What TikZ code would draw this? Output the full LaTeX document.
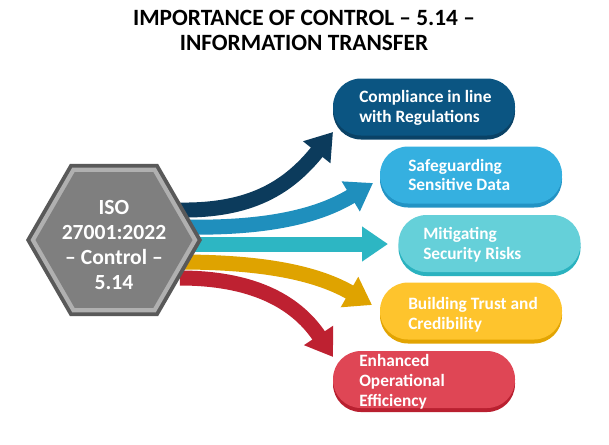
\documentclass[tikz,border=0pt]{standalone}
\usepackage{fontspec}
\setmainfont{Carlito}
\usetikzlibrary{arrows.meta}
\definecolor{hexdark}{HTML}{595959}
\definecolor{hexlight}{HTML}{B0B0B0}
\definecolor{hexmid}{HTML}{7F7F7F}
\definecolor{aNavy}{HTML}{0C3B5C}
\definecolor{aBlue}{HTML}{1F8FBD}
\definecolor{aTeal}{HTML}{2DB6C3}
\definecolor{aGold}{HTML}{DFA300}
\definecolor{aRed}{HTML}{BE2131}
\definecolor{pNavy}{HTML}{0B5582}
\definecolor{pNavyD}{HTML}{0A4266}
\definecolor{pBlue}{HTML}{35B0E0}
\definecolor{pBlueD}{HTML}{2293C4}
\definecolor{pTeal}{HTML}{65D0D9}
\definecolor{pTealD}{HTML}{2AB2BF}
\definecolor{pGold}{HTML}{FEC42D}
\definecolor{pGoldD}{HTML}{E2A402}
\definecolor{pRed}{HTML}{DF4655}
\definecolor{pRedD}{HTML}{B92030}
\begin{document}
\begin{tikzpicture}[x=0.75pt,y=-0.75pt,
  pill/.style={minimum width=136.5pt, minimum height=42.75pt, rounded corners=21pt, inner sep=0pt},
  ptext/.style={text=white, font=\fontsize{13}{14.8}\selectfont\bfseries, align=left, inner sep=0pt, anchor=west},
  arr/.style={line width=11.25pt, -{Triangle[length=19.5pt,width=25pt]}},
  title/.style={font=\fontsize{17.5}{18.75}\selectfont\bfseries, align=center, inner sep=0pt},
  hextext/.style={text=white, font=\fontsize{16.2}{18.75}\selectfont\bfseries, align=center, inner sep=0pt}]
\path[use as bounding box, fill=white] (0,0) rectangle (609,444);

\node[title] (title) at (304,30) {IMPORTANCE OF CONTROL – 5.14 –\\INFORMATION TRANSFER};

% pills (shadow + face)
\node[pill, fill=pNavyD] (p1s) at (424,111) {};
\node[pill, fill=pNavy] (p1) at (424,107) {};
\node[pill, fill=pBlueD] (p2s) at (471,179) {};
\node[pill, fill=pBlue] (p2) at (471,175) {};
\node[pill, fill=pTealD] (p3s) at (489.5,247.5) {};
\node[pill, fill=pTeal] (p3) at (489.5,243.5) {};
\node[pill, fill=pGoldD] (p4s) at (471,315) {};
\node[pill, fill=pGold] (p4) at (471,311) {};
\node[pill, fill=pRedD] (p5s) at (424,383.5) {};
\node[pill, fill=pRed] (p5) at (424,379.5) {};

\node[ptext] (t1) at (359,108) {Compliance in line\\with Regulations};
\node[ptext] (t2) at (408,175) {Safeguarding\\Sensitive Data};
\node[ptext] (t3) at (423,245) {Mitigating\\Security Risks};
\node[ptext] (t4) at (408,315) {Building Trust and\\Credibility};
\node[ptext] (t5) at (359,382) {Enhanced\\Operational\\Efficiency};

% arrows
\coordinate (s1) at (180,210);
\coordinate (s2) at (180,227);
\coordinate (s3) at (180,244);
\coordinate (s4) at (180,262);
\coordinate (s5) at (180,278);
\coordinate (e1) at (333,132);
\coordinate (e2) at (373,183);
\coordinate (e3) at (388,244);
\coordinate (e4) at (372,305);
\coordinate (e5) at (333,357);
\draw[arr, aRed] (s5) .. controls (250,278) and (295,300) .. (e5);
\draw[arr, aGold] (s4) .. controls (270,262) and (320,275) .. (e4);
\draw[arr, aTeal] (s3) -- (e3);
\draw[arr, aBlue] (s2) .. controls (270,229) and (320,215) .. (e2);
\draw[arr, aNavy] (s1) .. controls (250,211) and (288,188) .. (e1);

% hexagon
\coordinate (hc) at (114,240);
\fill[hexdark] (hc) +(0:88) -- +(60:88) -- +(120:88) -- +(180:88) -- +(240:88) -- +(300:88) -- cycle;
\fill[hexlight] (hc) +(0:83.5) -- +(60:83.5) -- +(120:83.5) -- +(180:83.5) -- +(240:83.5) -- +(300:83.5) -- cycle;
\fill[hexmid] (hc) +(0:78.5) -- +(60:78.5) -- +(120:78.5) -- +(180:78.5) -- +(240:78.5) -- +(300:78.5) -- cycle;
\node[hextext] (hex) at (114,244.5) {ISO\\27001:2022\\– Control –\\5.14};
\end{tikzpicture}
\end{document}
